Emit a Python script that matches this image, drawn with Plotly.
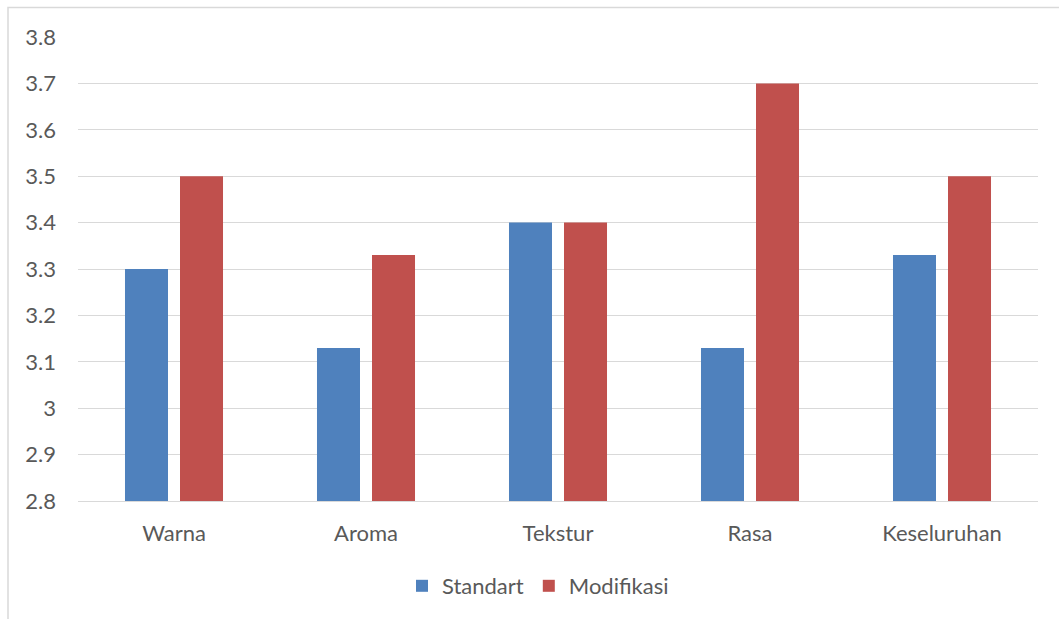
import plotly.graph_objects as go

categories = ["Warna", "Aroma", "Tekstur", "Rasa", "Keseluruhan"]
standart = [3.3, 3.13, 3.4, 3.13, 3.33]
modifikasi = [3.5, 3.33, 3.4, 3.7, 3.5]
y_ticks = [2.8, 2.9, 3.0, 3.1, 3.2, 3.3, 3.4, 3.5, 3.6, 3.7, 3.8]
y_tick_text = ["2.8", "2.9", "3", "3.1", "3.2", "3.3", "3.4", "3.5", "3.6", "3.7", "3.8"]

FONT = "Lato, Open Sans, sans-serif"
TEXT = "#595959"
GRID = "#d9d9d9"
FS = 22

fig = go.Figure()
fig.add_trace(go.Bar(name="Standart", x=categories, y=standart,
                     marker=dict(color="#4f81bd", line=dict(width=0))))
fig.add_trace(go.Bar(name="Modifikasi", x=categories, y=modifikasi,
                     marker=dict(color="#c0504d", line=dict(width=0))))

W, H = 1059, 619
L, R, T, B = 78, 21, 37, 118
pw, ph = W - L - R, H - T - B

fig.update_layout(
    width=W, height=H,
    margin=dict(l=L, r=R, t=T, b=B),
    paper_bgcolor="white", plot_bgcolor="white",
    barmode="group", bargap=0.427, bargroupgap=0.218,
    font=dict(family=FONT, size=FS, color=TEXT),
    showlegend=True,
    legend=dict(orientation="h", x=0.5 - 20 / pw, xanchor="center",
                y=-(586 - (T + ph)) / ph, yanchor="middle",
                font=dict(family=FONT, size=FS, color=TEXT),
                itemwidth=30, traceorder="normal"),
    xaxis=dict(showgrid=False, showline=True, linecolor=GRID, linewidth=1,
               ticks="", ticklabelstandoff=13,
               tickfont=dict(family=FONT, size=FS, color=TEXT)),
    yaxis=dict(range=[2.8, 3.8], tickvals=y_ticks, ticktext=y_tick_text,
               showgrid=True, gridcolor=GRID, gridwidth=1,
               showline=False, zeroline=False, ticks="",
               ticklabelstandoff=21,
               tickfont=dict(family=FONT, size=FS, color=TEXT)),
    shapes=[dict(type="rect", xref="paper", yref="paper",
                 x0=(8 - L) / pw, x1=(W + 5 - L) / pw,
                 y0=-(H + 5 - T - ph) / ph, y1=1 + (T - 7.5) / ph,
                 line=dict(color=GRID, width=1.5), layer="below")],
)

fig.write_html("out.html")
